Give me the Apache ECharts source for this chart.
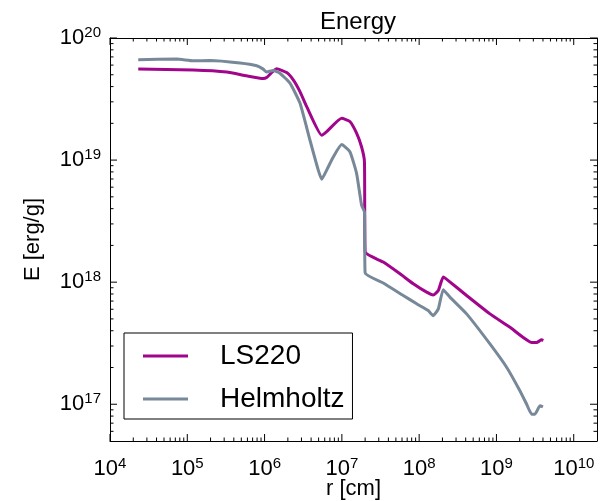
<!DOCTYPE html>
<html>
<head>
<meta charset="utf-8">
<script src="https://cdn.jsdelivr.net/npm/echarts@6/dist/echarts.min.js"></script>
<style>
  html, body { margin: 0; padding: 0; background: #fff; }
  #chart { width: 608px; height: 501px; }
</style>
</head>
<body>
<div id="chart"></div>
<script>
// radius [cm] and specific energy [erg/g]
const ls220R = [2.32e4, 1.2e5, 3.24e5, 5.86e5, 9.6e5, 1.06e6, 1.43e6, 1.93e6, 2.35e6, 2.87e6, 3.51e6,
  5.48e6, 6.36e6, 9.94e6, 1.27e7, 1.55e7, 1.8e7, 1.96e7, 2.0e7, 3.43e7, 5.65e7, 8.4e7, 1.25e8, 1.52e8,
  1.77e8, 2.05e8, 2.38e8, 4.11e8, 8.24e8, 1.5e9, 2.85e9, 3.31e9, 3.84e9, 4.03e9]
const ls220E = [5.56e19, 5.46e19, 5.26e19, 4.9e19, 4.66e19, 4.74e19, 5.6e19, 5.21e19, 4.54e19, 3.64e19, 2.74e19,
  1.6e19, 1.71e19, 2.2e19, 2.07e19, 1.66e19, 1.28e19, 9.69e18, 1.77e18, 1.46e18, 1.17e18, 9.71e17, 8.28e17, 7.86e17,
  8.55e17, 1.1e18, 1.03e18, 7.78e17, 5.5e17, 4.27e17, 3.21e17, 3.21e17, 3.37e17, 3.32e17]

const helmR = [2.32e4, 7.29e4, 1.2e5, 1.97e5, 4.81e5, 7.91e5, 9.6e5, 1.06e6, 1.3e6, 1.58e6, 2.13e6, 2.87e6,
  3.86e6, 4.95e6, 5.48e6, 6.36e6, 7.74e6, 9.94e6, 1.27e7, 1.55e7, 1.8e7, 1.96e7, 2.0e7, 3.43e7, 6.22e7,
  9.29e7, 1.31e8, 1.52e8, 1.77e8, 2.05e8, 2.5e8, 4.11e8, 8.24e8, 1.36e9, 2.01e9, 2.46e9, 2.85e9, 3.15e9,
  3.66e9, 4.0e9]
const helmE = [6.64e19, 6.72e19, 6.51e19, 6.54e19, 6.24e19, 5.92e19, 5.56e19, 5.26e19, 5.42e19, 5.15e19, 4.27e19, 2.93e19,
  1.46e19, 8.28e18, 6.98e18, 8.28e18, 1.06e19, 1.34e19, 1.17e19, 7.78e18, 4.27e18, 3.76e18, 1.19e18, 9.85e17, 7.78e17,
  6.65e17, 5.85e17, 5.32e17, 6.04e17, 8.67e17, 7.54e17, 5.5e17, 3.12e17, 2.0e17, 1.29e17, 1.0e17, 8.3e16, 8.3e16,
  9.71e16, 9.5e16]

const xMajor = [1e4, 1e5, 1e6, 1e7, 1e8, 1e9, 1e10]
const yMajor = [1e17, 1e18, 1e19, 1e20]
const xRange = [1e4, 2e10]
const yRange = [5e16, 1e20]

// minor ticks 2..9 of every decade, inside the range
function minorTicks(lo, hi) {
  const out = []
  for (let p = Math.floor(Math.log10(lo)); p <= Math.ceil(Math.log10(hi)); p++) {
    for (let m = 2; m <= 9; m++) {
      const v = m * Math.pow(10, p)
      if (v > lo && v < hi) out.push(v)
    }
  }
  return out
}
const xMinor = minorTicks(xRange[0], xRange[1])
const yMinor = minorTicks(yRange[0], yRange[1])
const MAJOR_LEN = 7
const MINOR_LEN = 3.5

const font = 'Liberation Sans, Arial, sans-serif'
const powLabel = v => '{b|10}{s|' + Math.round(Math.log10(v)) + '}'
const labelRich = {
  b: { fontSize: 22, fontFamily: font, color: '#000' },
  s: { fontSize: 15, fontFamily: font, color: '#000', padding: [0, 0, 10, 0] }
}

function logAxis(pos, range, extra) {
  return Object.assign({
    type: 'log',
    logBase: 10,
    position: pos,
    min: range[0],
    max: range[1],
    axisLine: { show: true, onZero: false, lineStyle: { color: '#000', width: 1 } },
    axisTick: { show: false },
    axisLabel: { show: false },
    splitLine: { show: false },
    minorTick: { show: false }
  }, extra || {})
}

// inward ticks on all four sides, placed through the axes' own log scales
const tickStyle = { stroke: '#000', lineWidth: 1 }
function tickLine(x1, y1, x2, y2) {
  return { type: 'line', shape: { x1, y1, x2, y2 }, style: tickStyle }
}
const xTickData = xMajor.map(v => [v, yRange[0], MAJOR_LEN]).concat(xMinor.map(v => [v, yRange[0], MINOR_LEN]))
const yTickData = yMajor.map(v => [xRange[0], v, MAJOR_LEN]).concat(yMinor.map(v => [xRange[0], v, MINOR_LEN]))

const chart = echarts.init(document.getElementById('chart'))
chart.setOption({
  animation: false,
  backgroundColor: '#fff',
  title: {
    text: 'Energy',
    left: 353,
    textAlign: 'center',
    top: 5,
    textStyle: { fontFamily: font, fontSize: 24, fontWeight: 'normal', color: '#000' }
  },
  grid: { left: 110, top: 38, right: 11, bottom: 60, containLabel: false, outerBoundsMode: 'none' },
  legend: {
    orient: 'vertical',
    left: 124,
    top: 333,
    padding: [9, 8, 6, 19],
    itemWidth: 45,
    itemHeight: 3,
    itemGap: 15,
    icon: 'rect',
    borderColor: '#000',
    borderWidth: 1,
    borderRadius: 0,
    backgroundColor: '#fff',
    textStyle: { fontFamily: font, fontSize: 28, color: '#000', lineHeight: 28, padding: [0, 0, 0, 27] },
    data: ['LS220', 'Helmholtz']
  },
  xAxis: [
    logAxis('bottom', xRange, {
      name: 'r [cm]',
      nameLocation: 'middle',
      nameGap: 37,
      nameMoveOverlap: false,
      nameTextStyle: { fontFamily: font, fontSize: 22, color: '#000' },
      axisLabel: { show: true, customValues: xMajor, margin: 15, formatter: powLabel, rich: labelRich }
    }),
    logAxis('top', xRange)
  ],
  yAxis: [
    logAxis('left', yRange, {
      name: 'E [erg/g]',
      nameLocation: 'middle',
      nameGap: 66,
      nameTextStyle: { fontFamily: font, fontSize: 22, color: '#000' },
      axisLabel: { show: true, customValues: yMajor, margin: 9, formatter: powLabel, rich: labelRich }
    }),
    logAxis('right', yRange)
  ],
  series: [
    {
      name: 'LS220',
      type: 'line',
      xAxisIndex: 0,
      yAxisIndex: 0,
      data: ls220R.map((r, i) => [r, ls220E[i]]),
      showSymbol: false,
      smooth: 0.15,
      lineStyle: { color: '#a0058c', width: 3 },
      itemStyle: { color: '#a0058c' }
    },
    {
      name: 'Helmholtz',
      type: 'line',
      xAxisIndex: 0,
      yAxisIndex: 0,
      data: helmR.map((r, i) => [r, helmE[i]]),
      showSymbol: false,
      smooth: 0.15,
      lineStyle: { color: '#778899', width: 3 },
      itemStyle: { color: '#778899' }
    },
    {
      type: 'custom',
      xAxisIndex: 0,
      yAxisIndex: 0,
      silent: true,
      z: 5,
      data: xTickData,
      renderItem: (params, api) => {
        const v = api.value(0)
        const len = api.value(2)
        const b = api.coord([v, yRange[0]])
        const t = api.coord([v, yRange[1]])
        return { type: 'group', children: [
          tickLine(b[0], b[1], b[0], b[1] - len),
          tickLine(t[0], t[1], t[0], t[1] + len)
        ] }
      }
    },
    {
      type: 'custom',
      xAxisIndex: 0,
      yAxisIndex: 0,
      silent: true,
      z: 5,
      data: yTickData,
      renderItem: (params, api) => {
        const v = api.value(1)
        const len = api.value(2)
        const l = api.coord([xRange[0], v])
        const r = api.coord([xRange[1], v])
        return { type: 'group', children: [
          tickLine(l[0], l[1], l[0] + len, l[1]),
          tickLine(r[0], r[1], r[0] - len, r[1])
        ] }
      }
    }
  ]
})
</script>
</body>
</html>
